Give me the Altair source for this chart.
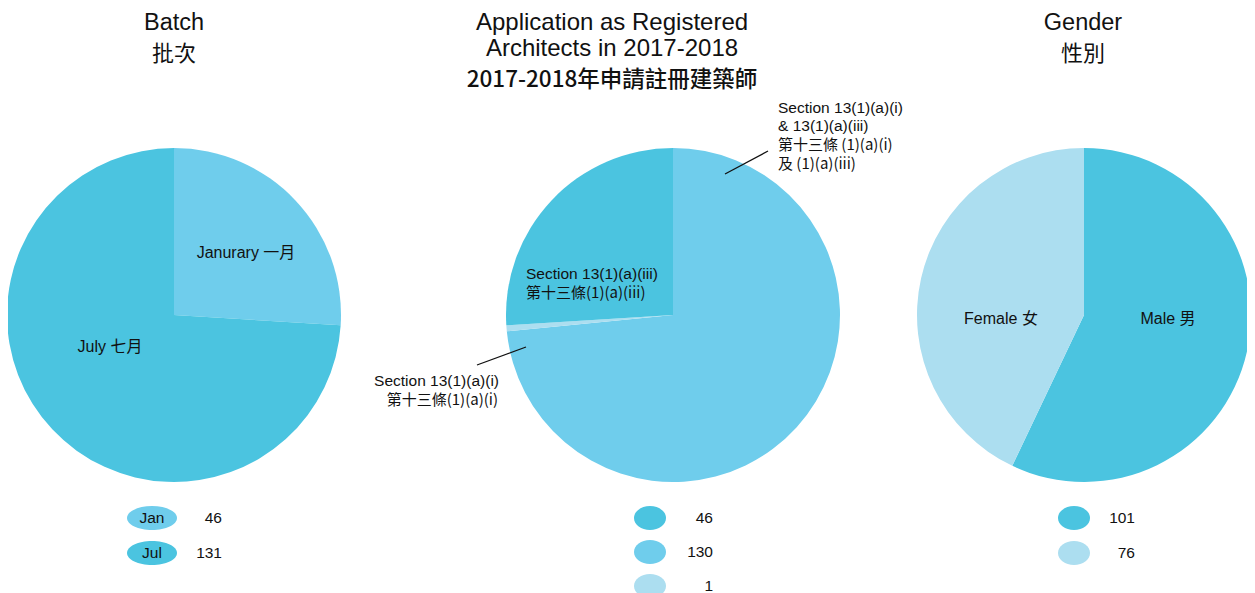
import altair as alt
import pandas as pd

# ---------------- data ----------------
batch_keys = ["Jan", "Jul"]
batch_counts = [46, 131]
batch_labels = ["Janurary 一月", "July 七月"]

app_keys = ["13(1)(a)(i) & 13(1)(a)(iii)", "13(1)(a)(i)", "13(1)(a)(iii)"]
app_counts = [130, 1, 46]
app_legend_rows = [1, 2, 0]          # legend order: 46, 130, 1

gender_keys = ["Male", "Female"]
gender_counts = [101, 76]
gender_labels = ["Male 男", "Female 女"]

titles_batch = ["Batch", "批次"]
titles_app = ["Application as Registered", "Architects in 2017-2018", "2017-2018年申請註冊建築師"]
titles_gender = ["Gender", "性別"]

label_app_inner = ["Section 13(1)(a)(iii)", "第十三條(1)(a)(iii)"]
label_app_small = ["Section 13(1)(a)(i)", "第十三條(1)(a)(i)"]
label_app_big = ["Section 13(1)(a)(i)", "& 13(1)(a)(iii)", "第十三條 (1)(a)(i)", "及 (1)(a)(iii)"]

# ---------------- style ----------------
DARK, MID, LIGHT = "#4bc4e0", "#6fcdec", "#acdef0"
LATIN = "Liberation Sans, Arial, Noto Sans CJK TC, sans-serif"
CJK = "Noto Sans CJK TC, Noto Sans CJK SC, sans-serif"
CY, R = 307, 167


def ellipse_path(k):
    c = 0.5523
    return (f"M-1,0 C-1,{-k*c:.4f} {-c},{-k} 0,{-k} C{c},{-k} 1,{-k*c:.4f} 1,0 "
            f"C1,{k*c:.4f} {c},{k} 0,{k} C{-c},{k} -1,{k*c:.4f} -1,0 Z")


df_batch = pd.DataFrame({"key": batch_keys, "count": batch_counts,
                         "slice": [0, 1], "row": [0, 1]})
df_app = pd.DataFrame({"key": app_keys, "count": app_counts,
                       "slice": [0, 1, 2], "row": app_legend_rows})
df_gender = pd.DataFrame({"key": gender_keys, "count": gender_counts,
                          "slice": [0, 1], "row": [0, 1]})

colors_batch = [MID, DARK]
colors_app = [MID, LIGHT, DARK]
colors_gender = [DARK, LIGHT]


def pie(df, cx, colors):
    return alt.Chart(df).mark_arc(radius=R).encode(
        theta=alt.Theta("count:Q", stack=True),
        color=alt.Color("key:N", scale=alt.Scale(domain=list(df["key"]), range=colors), legend=None),
        order=alt.Order("slice:Q"),
        x=alt.value(cx), y=alt.value(CY),
    )


def legend(df, colors, ex, yr, w, cnt_x, show_key):
    n = len(df)
    y = alt.Y("row:O", scale=alt.Scale(domain=list(range(n)), range=yr, padding=0), axis=None)
    k = 24 / w
    base = alt.Chart(df)
    layers = [
        base.mark_point(shape=ellipse_path(k), size=w * w, filled=True, opacity=1, strokeWidth=0).encode(
            x=alt.value(ex), y=y,
            color=alt.Color("key:N", scale=alt.Scale(domain=list(df["key"]), range=colors), legend=None)),
        base.mark_text(align="right", baseline="middle", fontSize=15.5, font=LATIN, color="#111").encode(
            x=alt.value(cnt_x), y=y, text="count:Q"),
    ]
    if show_key:
        layers.append(base.mark_text(align="center", baseline="middle", fontSize=15.5, font=LATIN, color="#111").encode(
            x=alt.value(ex), y=y, text="key:N"))
    return layers


def txt(t, x, y, size=16, align="center", font=LATIN, weight="normal"):
    return alt.Chart(alt.Data(values=[{}])).mark_text(
        align=align, baseline="middle", fontSize=size, font=font, fontWeight=weight, color="#111"
    ).encode(x=alt.value(x), y=alt.value(y), text=alt.value(t))


def rule(x1, y1, x2, y2):
    return alt.Chart(alt.Data(values=[{}])).mark_rule(color="#111", strokeWidth=1.3).encode(
        x=alt.value(x1), y=alt.value(y1), x2=alt.value(x2), y2=alt.value(y2))


layers = [
    pie(df_batch, 166, colors_batch),
    pie(df_app, 665, colors_app),
    pie(df_gender, 1076, colors_gender),
]
layers += legend(df_batch, colors_batch, 144, [510, 545], 50, 214, True)
layers += legend(df_app, colors_app, 642, [510, 578], 32, 705, False)
layers += legend(df_gender, colors_gender, 1066, [510, 545], 32, 1127, False)

# titles
layers += [
    txt(titles_batch[0], 166, 15, 23.5),
    txt(titles_batch[1], 166, 46, 22, font=CJK),
    txt(titles_app[0], 604, 15, 24),
    txt(titles_app[1], 604, 41, 24),
    txt(titles_app[2], 604, 72, 22.5, font=CJK, weight=500),
    txt(titles_gender[0], 1075, 15, 23.5),
    txt(titles_gender[1], 1075, 46, 22, font=CJK),
]
# pie labels
S = 15
layers += [
    txt(batch_labels[0], 238, 245),
    txt(batch_labels[1], 102, 339),
    txt(label_app_inner[0], 518, 266, S + 0.5, align="left"),
    txt(label_app_inner[1], 518, 285, S, align="left", font=CJK),
    txt(label_app_small[0], 491, 373, S + 0.5, align="right"),
    txt(label_app_small[1], 490, 392, S, align="right", font=CJK),
    txt(label_app_big[0], 770, 100, S + 0.5, align="left"),
    txt(label_app_big[1], 770, 118, S + 0.5, align="left"),
    txt(label_app_big[2], 770, 137, S, align="left", font=CJK),
    txt(label_app_big[3], 770, 156, S, align="left", font=CJK),
    txt(gender_labels[1], 993, 311),
    txt(gender_labels[0], 1160, 311),
    rule(469, 357, 518, 339),
    rule(717, 166, 760, 143),
]

chart = alt.layer(*layers).resolve_scale(
    theta="independent", color="independent", y="independent"
).properties(
    width=1239, height=592, padding=0, autosize=alt.AutoSizeParams(type="none"), background="white"
).configure_view(stroke=None)

chart.save("out.html", embed_options={"renderer": "svg", "actions": False})
